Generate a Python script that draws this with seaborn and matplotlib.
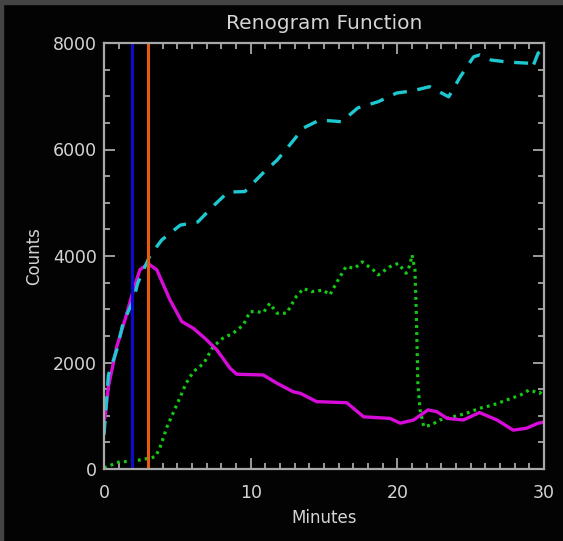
import matplotlib
matplotlib.use("Agg")
import matplotlib.pyplot as plt
from matplotlib.patches import Rectangle
from matplotlib.ticker import MultipleLocator
import pandas as pd
import seaborn as sns

# ---- data ----
total_min = [0, 0.3, 0.87, 1.3, 2.0, 2.3, 3.1, 3.93, 5.2, 6.4, 7.4, 8.45, 9.6,
             10.85, 11.8, 12.5, 13.6, 14.7, 16.2, 17.3, 18.7, 19.95, 21.1, 22.2,
             23.5, 24.3, 25.2, 25.6, 26.4, 27.6, 29.0, 29.2, 29.6, 30]
total_cnt = [640, 1765, 2235, 2740, 3170, 3490, 3990, 4300, 4580, 4640, 4925, 5200, 5210,
             5560, 5800, 6030, 6404, 6554, 6522, 6780, 6898, 7060, 7105, 7180,
             6990, 7370, 7740, 7775, 7680, 7640, 7620, 7530, 7810, 7900]

kidney_min = [0, 0.07, 0.3, 0.87, 1.43, 2.0, 2.45, 3.0, 3.6, 4.5, 5.3, 6.1, 6.9, 7.7,
              8.6, 9.05, 10.86, 11.8, 12.9, 13.4, 14.5, 16.55, 17.7, 19.5, 20.2, 21.1,
              22.1, 22.7, 23.4, 24.5, 25.6, 26.8, 27.9, 28.8, 29.6, 30]
kidney_cnt = [900, 980, 1545, 2300, 2800, 3360, 3740, 3860, 3740, 3175, 2770, 2640, 2450, 2235,
              1890, 1780, 1765, 1610, 1450, 1420, 1265, 1245, 980, 950, 860, 920,
              1110, 1075, 950, 920, 1060, 920, 730, 765, 860, 880]

bladder_min = [0, 0.5, 1.1, 1.5, 2.45, 3.0, 3.5, 3.8, 4.3, 5.0, 5.6, 6.1, 6.8, 7.45, 8.1,
               8.8, 9.5, 9.95, 10.4, 10.86, 11.3, 11.8, 12.45, 13.1, 13.6, 14.15, 14.95,
               15.4, 15.9, 16.5, 17.1, 17.6, 18.35, 18.7, 19.5, 20.06, 20.6, 20.86, 21.0,
               21.2, 21.3, 21.4, 21.55, 21.8, 22.3, 22.9, 23.8, 24.7, 25.6, 26.5, 27.45,
               28.4, 29.0, 29.7, 30]
bladder_cnt = [20, 75, 140, 140, 170, 200, 230, 390, 795, 1230, 1610, 1830, 1985, 2300, 2455,
               2550, 2705, 2955, 2955, 2935, 3110, 2925, 2925, 3235, 3390, 3330, 3360,
               3270, 3520, 3800, 3770, 3890, 3740, 3645, 3800, 3860, 3675, 3830, 4020,
               3740, 2860, 1610, 1110, 795, 826, 920, 980, 1045, 1140, 1200, 1295,
               1390, 1485, 1420, 1500]

marker_min = [1.9, 3.0]
marker_colors = ["#0a0ad0", "#e85a10"]

title = "Renogram Function"
xlabel = "Minutes"
ylabel = "Counts"
xticks = [0, 10, 20, 30]
yticks = [0, 2000, 4000, 6000, 8000]

# ---- style ----
sns.set_style("dark")
fg = "#d4d4d4"
axcol = "#a8a8a8"
plt.rcParams.update({
    "font.family": ["DejaVu Sans"],
    "figure.facecolor": "#030303",
    "axes.facecolor": "#000000",
    "axes.edgecolor": axcol,
    "axes.grid": False,
    "text.color": fg,
    "axes.labelcolor": fg,
    "xtick.color": axcol,
    "ytick.color": axcol,
    "xtick.labelcolor": fg,
    "ytick.labelcolor": fg,
})

fig = plt.figure(figsize=(5.63, 5.41), dpi=100)
ax = fig.add_axes([104 / 563, 1 - 469 / 541, 440 / 563, 426 / 541])

df_total = pd.DataFrame({"Minutes": total_min, "Counts": total_cnt})
df_kidney = pd.DataFrame({"Minutes": kidney_min, "Counts": kidney_cnt})
df_bladder = pd.DataFrame({"Minutes": bladder_min, "Counts": bladder_cnt})

sns.lineplot(data=df_bladder, x="Minutes", y="Counts", ax=ax, sort=False,
             estimator=None, color="#14c814", lw=2.3, dashes=False,
             linestyle=(0, (0.9, 1.3)))
sns.lineplot(data=df_kidney, x="Minutes", y="Counts", ax=ax, sort=False,
             estimator=None, color="#d80cd8", lw=2.4)
sns.lineplot(data=df_total, x="Minutes", y="Counts", ax=ax, sort=False,
             estimator=None, color="#1ec8d0", lw=2.4,
             linestyle=(0, (4.2, 3.2)))

for m, c in zip(marker_min, marker_colors):
    ax.axvline(m, color=c, lw=2.2)

ax.set_xlim(0, 30)
ax.set_ylim(0, 8000)
ax.set_xticks(xticks)
ax.set_yticks(yticks)
ax.xaxis.set_minor_locator(MultipleLocator(1))
ax.yaxis.set_minor_locator(MultipleLocator(500))
ax.tick_params(which="both", direction="in", top=True, right=True,
               bottom=True, left=True, labelsize=12.5, width=1.3)
ax.tick_params(axis="x", which="major", length=8, pad=11)
ax.tick_params(axis="y", which="major", length=8, pad=5)
ax.tick_params(which="minor", length=4)
for s in ax.spines.values():
    s.set_linewidth(1.6)
    s.set_color(axcol)

ax.set_title(title, fontsize=14.5, color=fg, pad=10)
ax.set_xlabel(xlabel, fontsize=12, labelpad=5)
ax.set_ylabel(ylabel, fontsize=12, labelpad=7)

# gray frame on top and left edges as in the screenshot
fig.patches.append(Rectangle((0, 1 - 4 / 541), 1, 4 / 541, transform=fig.transFigure,
                             color="#444444", zorder=0))
fig.patches.append(Rectangle((0, 0), 3 / 563, 1, transform=fig.transFigure,
                             color="#444444", zorder=0))

fig.savefig("out.png", dpi=100, facecolor=fig.get_facecolor())
